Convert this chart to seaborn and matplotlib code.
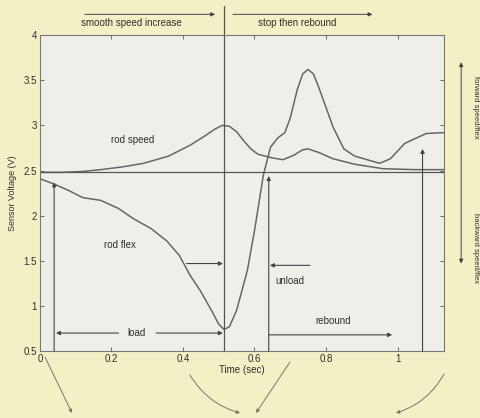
import numpy as np
import pandas as pd
import seaborn as sns
import matplotlib.pyplot as plt

# curve readings (time in sec, sensor voltage in V)
speed_t = [0, 0.06, 0.12, 0.17, 0.23, 0.29, 0.36, 0.42, 0.46, 0.49, 0.51, 0.53, 0.55, 0.57,
           0.59, 0.61, 0.65, 0.68, 0.71, 0.735, 0.75, 0.78, 0.82, 0.88, 0.96, 1.05, 1.13]
speed_v = [2.48, 2.48, 2.49, 2.51, 2.54, 2.58, 2.66, 2.78, 2.88, 2.96, 3.0, 2.99, 2.93, 2.83,
           2.74, 2.68, 2.64, 2.62, 2.67, 2.73, 2.74, 2.70, 2.63, 2.57, 2.52, 2.51, 2.51]

flex_t = [0, 0.04, 0.08, 0.12, 0.17, 0.22, 0.26, 0.31, 0.355, 0.39, 0.42, 0.45, 0.48, 0.50,
          0.515, 0.53, 0.55, 0.58, 0.60, 0.625, 0.645, 0.665, 0.685, 0.70, 0.72, 0.735, 0.75,
          0.765, 0.78, 0.80, 0.82, 0.85, 0.88, 0.95, 0.98, 1.02, 1.08, 1.13]
flex_v = [2.41, 2.35, 2.28, 2.2, 2.17, 2.08, 1.97, 1.86, 1.72, 1.56, 1.34, 1.16, 0.95, 0.80,
          0.74, 0.77, 0.95, 1.39, 1.83, 2.45, 2.76, 2.86, 2.92, 3.08, 3.4, 3.57, 3.62,
          3.57, 3.42, 3.2, 2.98, 2.74, 2.66, 2.58, 2.63, 2.8, 2.91, 2.92]

x_ticks = [0, 0.2, 0.4, 0.6, 0.8, 1]
x_labels = ['0', '0.2', '0.4', '0.6', '0.8', '1']
y_ticks = [0.5, 1, 1.5, 2, 2.5, 3, 3.5, 4]
y_labels = ['0.5', '1', '1.5', '2', '2.5', '3', '3.5', '4']

speed = pd.DataFrame({'t': speed_t, 'v': speed_v})
flex = pd.DataFrame({'t': flex_t, 'v': flex_v})

sns.set_style('ticks')
plt.rcParams['font.family'] = ['Liberation Sans', 'DejaVu Sans']

paper = '#f4f0c6'
ink = '#2e2e2e'
curve = '#666666'

fig = plt.figure(figsize=(4.8, 4.18), dpi=100, facecolor=paper)
ax = fig.add_axes([0.083, 0.160, 0.842, 0.756])
ax.set_facecolor('#efefea')

sns.lineplot(data=speed, x='t', y='v', ax=ax, color=curve, lw=1.1, sort=False)
sns.lineplot(data=flex, x='t', y='v', ax=ax, color=curve, lw=1.1, sort=False)

ax.set_xlim(0, 1.13)
ax.set_ylim(0.5, 4)
ax.set_xticks(x_ticks)
ax.set_xticklabels(x_labels)
ax.set_yticks(y_ticks)
ax.set_yticklabels(y_labels)
ax.tick_params(direction='in', length=3, width=0.6, labelsize=7, colors='#555555',
               labelcolor=ink, top=True, right=True, pad=2)
for s in ax.spines.values():
    s.set_color('#777777')
    s.set_linewidth(0.8)
ax.set_xlabel('Time (sec)', fontsize=7, color=ink, labelpad=1)
ax.set_ylabel('Sensor Voltage (V)', fontsize=6.5, color=ink, labelpad=5)

# reference lines
line_kw = dict(color='#555555', lw=0.9)
ax.axhline(2.48, **line_kw)
ax.plot([0.515, 0.515], [0.5, 4.32], clip_on=False, **line_kw)

# vertical event markers with arrowheads
arr = dict(arrowstyle='-|>', color='#444444', lw=0.8, mutation_scale=6,
           shrinkA=0, shrinkB=0)
for xv, ytop in [(0.04, 2.37), (0.64, 2.44), (1.07, 2.74)]:
    ax.annotate('', xy=(xv, ytop), xytext=(xv, 0.5), arrowprops=arr)

# horizontal interval arrows
ax.annotate('', xy=(0.045, 0.7), xytext=(0.22, 0.7), arrowprops=arr)
ax.annotate('', xy=(0.512, 0.7), xytext=(0.325, 0.7), arrowprops=arr)
ax.annotate('', xy=(0.985, 0.68), xytext=(0.64, 0.68), arrowprops=arr)
ax.annotate('', xy=(0.512, 1.47), xytext=(0.41, 1.47), arrowprops=arr)
ax.annotate('', xy=(0.643, 1.45), xytext=(0.755, 1.45), arrowprops=arr)

txt = dict(fontsize=7, color=ink, ha='center', va='center')
ax.text(0.26, 2.84, 'rod speed', **txt)
ax.text(0.225, 1.68, 'rod flex', **txt)
ax.text(0.27, 0.7, 'load', **txt)
ax.text(0.70, 1.28, 'unload', **txt)
ax.text(0.82, 0.83, 'rebound', **txt)

# phase labels above the axes
ax.text(0.255, 4.13, 'smooth speed increase', clip_on=False, **txt)
ax.text(0.72, 4.13, 'stop then rebound', clip_on=False, **txt)
top_arr = dict(arr, lw=0.7)
ax.annotate('', xy=(0.49, 4.23), xytext=(0.126, 4.23), arrowprops=top_arr,
            annotation_clip=False)
ax.annotate('', xy=(0.93, 4.23), xytext=(0.54, 4.23), arrowprops=top_arr,
            annotation_clip=False)

# direction legend on the right
ax.annotate('', xy=(1.178, 3.7), xytext=(1.178, 1.47), annotation_clip=False,
            arrowprops=dict(arrowstyle='<|-|>', color='#444444', lw=0.7,
                            mutation_scale=6, shrinkA=0, shrinkB=0))
ax.text(1.218, 3.2, 'forward speed/flex', rotation=270, clip_on=False,
        fontsize=5.5, color=ink, ha='center', va='center')
ax.text(1.218, 1.64, 'backward speed/flex', rotation=270, clip_on=False,
        fontsize=5.5, color=ink, ha='center', va='center')

# pointer lines down to the photos below
ptr = dict(arrowstyle='<|-', color='#7a7560', lw=0.7, mutation_scale=5,
           shrinkA=0, shrinkB=0)
H = 418.0
for (x0, y0), (x1, y1), rad in [((45, 357), (72, 413), 0.0),
                                ((190, 375), (240, 413), -0.2),
                                ((290, 362), (256, 413), 0.0),
                                ((444, 374), (396, 413), 0.2)]:
    fig.add_artist(plt.matplotlib.patches.FancyArrowPatch(
        (x1 / 480, 1 - y1 / H), (x0 / 480, 1 - y0 / H), transform=fig.transFigure,
        connectionstyle=f'arc3,rad={rad}', **ptr))

fig.savefig('out.png', dpi=100, facecolor=paper)
